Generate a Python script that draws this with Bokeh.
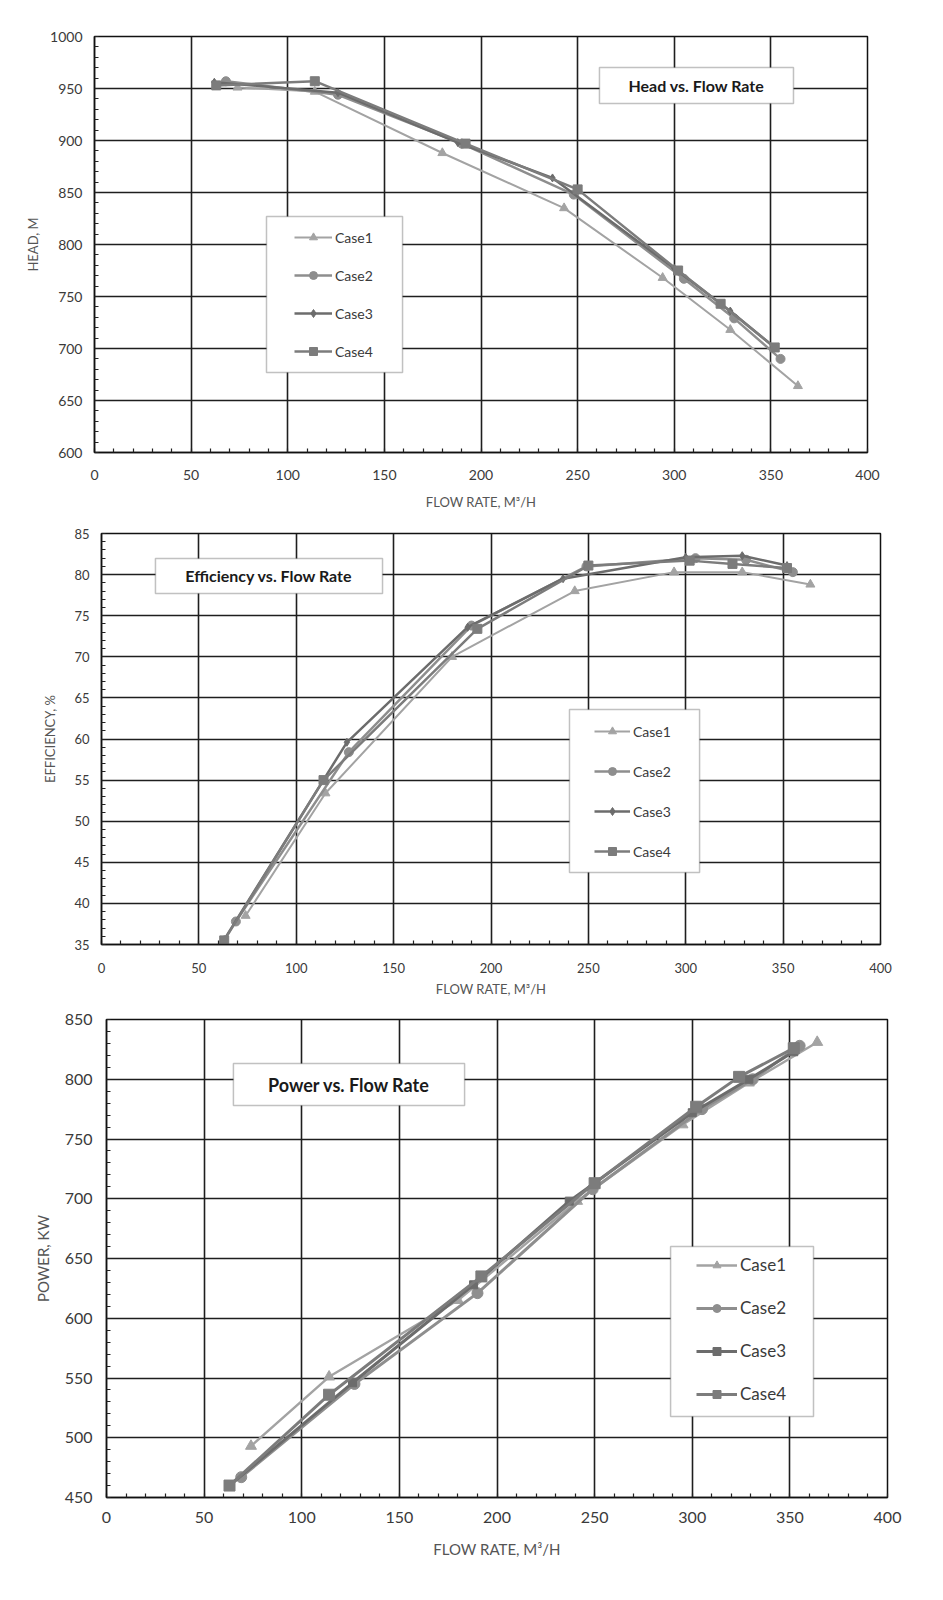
from bokeh.plotting import figure
from bokeh.models import Range1d, SingleIntervalTicker, BoxAnnotation, Label, Legend, LegendItem
from bokeh.embed import file_html
from bokeh.resources import INLINE

# ---------------- data ----------------
case_names = ["Case1", "Case2", "Case3", "Case4"]

# Head vs flow rate
head_q1 = [74, 114, 180, 243, 294, 329, 364]
head_v1 = [951, 947, 888, 835, 768, 718, 664]
head_q2 = [68, 126, 190, 248, 305, 331, 355]
head_v2 = [957, 944, 897, 848, 767, 729, 690]
head_q3 = [62, 126, 188, 237, 300, 329, 352]
head_v3 = [956, 946, 898, 864, 777, 736, 701]
head_q4 = [63, 114, 192, 250, 302, 324, 352]
head_v4 = [953, 957, 897, 853, 775, 743, 701]

# Efficiency vs flow rate
eff_q1 = [74, 115, 180, 243, 294, 329, 364]
eff_v1 = [38.5, 53.4, 70.0, 78.0, 80.3, 80.3, 78.8]
eff_q2 = [69, 127, 190, 249, 305, 331, 355]
eff_v2 = [37.8, 58.4, 73.8, 81.0, 82.0, 81.8, 80.3]
eff_q3 = [63, 126, 188, 237, 300, 329, 352]
eff_v3 = [35.6, 59.6, 73.6, 79.5, 82.1, 82.3, 81.1]
eff_q4 = [63, 114, 193, 250, 302, 324, 352]
eff_v4 = [35.5, 55.0, 73.4, 81.1, 81.7, 81.3, 80.8]

# Power vs flow rate
pow_q1 = [74, 114, 180, 241, 295, 329, 364]
pow_v1 = [493, 551, 615, 698, 762, 797, 831]
pow_q2 = [69, 127, 190, 249, 305, 331, 355]
pow_v2 = [467, 545, 621, 708, 775, 800, 828]
pow_q3 = [63, 126, 188, 237, 300, 329, 352]
pow_v3 = [460, 546, 628, 698, 772, 800, 823]
pow_q4 = [63, 114, 192, 250, 302, 324, 352]
pow_v4 = [460, 536, 635, 713, 777, 802, 826]

x_label = "FLOW RATE, M\u00b3/H"

# ---------------- styles ----------------
FONT = "Lato"
case_colors = ["#a3a3a3", "#8e8e8e", "#6c6c6c", "#7c7c7c"]
case_widths = [2.0, 2.5, 2.5, 2.5]


def make_chart(series, markers, x_rng, y_rng, y_int, y_label, title, title_box, legend_box,
               legend_loc, legend_spacing, glyph_w, w, h, borders, tick_fs, label_fs,
               title_fs, legend_fs, ylab_standoff, xlab_standoff, y_tick_standoff, x_tick_standoff,
               marker_sizes, line_scale=1.0):
    left, right, top, bottom = borders
    p = figure(width=w, height=h, output_backend="svg", toolbar_location=None,
               x_range=Range1d(*x_rng), y_range=Range1d(*y_rng),
               min_border_left=left, min_border_right=right,
               min_border_top=top, min_border_bottom=bottom)
    p.background_fill_color = "white"
    p.border_fill_color = "white"
    p.outline_line_color = "#111111"
    p.outline_line_width = 1.5

    p.xaxis.ticker = SingleIntervalTicker(interval=50, num_minor_ticks=5)
    p.yaxis.ticker = SingleIntervalTicker(interval=y_int, num_minor_ticks=5)
    for ax in (p.xaxis[0], p.yaxis[0]):
        ax.axis_line_color = "#111111"
        ax.axis_line_width = 1.5
        ax.major_tick_in = 0
        ax.major_tick_out = 0
        ax.minor_tick_in = 4
        ax.minor_tick_out = 0
        ax.minor_tick_line_color = "#222222"
        ax.minor_tick_line_width = 1.2
        ax.major_label_text_font = FONT
        ax.major_label_text_font_size = f"{tick_fs}px"
        ax.major_label_text_color = "#3a3a3a"
        ax.axis_label_text_font = FONT
        ax.axis_label_text_font_size = f"{label_fs}px"
        ax.axis_label_text_font_style = "normal"
        ax.axis_label_text_color = "#555555"
    p.xaxis.axis_label = x_label
    p.yaxis.axis_label = y_label
    p.yaxis.major_label_standoff = y_tick_standoff
    p.xaxis.major_label_standoff = x_tick_standoff
    p.yaxis.axis_label_standoff = ylab_standoff
    p.xaxis.axis_label_standoff = xlab_standoff

    p.xgrid.ticker = p.xaxis.ticker
    p.ygrid.ticker = p.yaxis.ticker
    for g in (p.xgrid[0], p.ygrid[0]):
        g.grid_line_color = "#1e1e1e"
        g.grid_line_width = 1.6
        g.grid_line_alpha = 1.0

    items = []
    for i, (qs, vs) in enumerate(series):
        col = case_colors[i]
        ln = p.line(qs, vs, line_color=col, line_width=case_widths[i] * line_scale)
        sc = p.scatter(qs, vs, marker=markers[i], size=marker_sizes[i],
                       fill_color=col, line_color=col)
        items.append(LegendItem(label=case_names[i], renderers=[ln, sc]))

    # title box
    tl, tr, tt, tb = title_box
    p.add_layout(BoxAnnotation(left=tl, right=tr, top=tt, bottom=tb,
                               fill_color="white", fill_alpha=1.0,
                               line_color="#333333", line_width=1.5))
    p.add_layout(Label(x=(tl + tr) / 2, y=(tt + tb) / 2, text=title,
                       text_align="center", text_baseline="middle",
                       text_font=FONT, text_font_style="bold",
                       text_font_size=f"{title_fs}px", text_color="#1a1a1a"))

    # legend box + legend
    ll, lr, lt, lb = legend_box
    p.add_layout(BoxAnnotation(left=ll, right=lr, top=lt, bottom=lb,
                               fill_color="white", fill_alpha=1.0,
                               line_color="#333333", line_width=1.5))
    legend = Legend(items=items, location=legend_loc, padding=0, margin=0,
                    spacing=legend_spacing, glyph_width=glyph_w, glyph_height=20,
                    label_height=20, label_standoff=3,
                    border_line_alpha=0, background_fill_alpha=0,
                    label_text_font=FONT, label_text_font_size=f"{legend_fs}px",
                    label_text_color="#3a3a3a")
    p.add_layout(legend)
    return p


p1 = make_chart(
    [(head_q1, head_v1), (head_q2, head_v2), (head_q3, head_v3), (head_q4, head_v4)],
    ["triangle", "circle", "diamond", "square"],
    (0, 400), (600, 1000), 50, "HEAD, M", "Head vs. Flow Rate",
    (261.3, 361.7, 970.2, 935.6), (89.0, 159.4, 826.9, 676.9),
    (200, 91), 18, 38, 930, 512, (94, 63, 36, 60),
    14, 13, 16, 14, 6, 11, 12, 17, [9, 9, 8, 9])

p2 = make_chart(
    [(eff_q1, eff_v1), (eff_q2, eff_v2), (eff_q3, eff_v3), (eff_q4, eff_v4)],
    ["triangle", "circle", "diamond", "square"],
    (0, 400), (35, 85), 5, "EFFICIENCY, %", "Efficiency vs. Flow Rate",
    (27.7, 144.3, 81.96, 77.7), (240.3, 307.1, 63.59, 43.76),
    (493, 83), 20, 36, 930, 492, (101, 50, 21, 60),
    13, 13, 16, 14, 13, 5, 12, 18, [9, 9, 8, 9])

p3 = make_chart(
    [(pow_q1, pow_v1), (pow_q2, pow_v2), (pow_q3, pow_v3), (pow_q4, pow_v4)],
    ["triangle", "circle", "square", "square"],
    (0, 400), (450, 850), 50, "POWER, KW", "Power vs. Flow Rate",
    (65.0, 183.4, 813.2, 778.0), (288.9, 362.1, 660.0, 517.8),
    (590, 93), 22, 41, 930, 556, (106, 43, 15, 63),
    16, 15, 18, 17, 10, 14, 14, 14, [11, 11, 8, 11], 1.2)

open("out.html", "w").write(file_html([p1, p2, p3], INLINE))
